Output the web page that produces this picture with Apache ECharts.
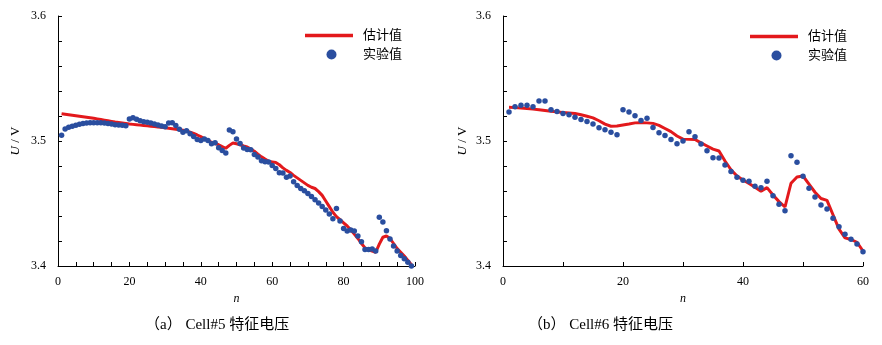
<!DOCTYPE html>
<html><head><meta charset="utf-8">
<script src="https://cdn.jsdelivr.net/npm/echarts@6/dist/echarts.min.js"></script>
<style>html,body{margin:0;padding:0;background:#fff}#c{width:882px;height:345px}</style>
</head><body><div id="c"></div>
<script>
// Cell#5 (left)
const expL = [3.5046,3.5096,3.511,3.5118,3.5126,3.5134,3.514,3.5144,3.5146,3.5146,
3.5146,3.5146,3.5144,3.514,3.5136,3.513,3.5128,3.5126,3.5122,3.5176,
3.5187,3.5174,3.5163,3.5155,3.515,3.5144,3.5136,3.5128,3.512,3.5114,
3.5144,3.5146,3.5124,3.5094,3.507,3.5083,3.5059,3.5037,3.5013,3.5005,
3.5016,3.5005,3.4979,3.4987,3.4947,3.4925,3.4904,3.5088,3.5075,3.5016,
3.4981,3.4944,3.4933,3.493,3.4893,3.4872,3.4843,3.4835,3.4832,3.4805,
3.4781,3.4747,3.4744,3.471,3.472,3.4675,3.4645,3.4621,3.4603,3.4581,
3.4557,3.453,3.4504,3.4477,3.4448,3.4416,3.4378,3.4461,3.436,3.4301,
3.428,3.4288,3.428,3.424,3.4194,3.4133,3.4133,3.4136,3.412,3.439,
3.4352,3.4282,3.4216,3.416,3.412,3.4085,3.4058,3.403,3.4];
const estL = [3.5218,3.5214,3.521,3.5206,3.5202,3.5198,3.5194,3.519,3.5186,3.5182,
3.5177,3.5172,3.5167,3.5162,3.5157,3.5152,3.5148,3.5144,3.514,3.5136,
3.5133,3.513,3.5127,3.5124,3.5121,3.5118,3.5115,3.5112,3.5109,3.5106,
3.5102,3.5098,3.5094,3.509,3.5086,3.508,3.507,3.506,3.5048,3.5035,
3.502,3.5005,3.499,3.498,3.497,3.4955,3.4942,3.4965,3.4984,3.4978,
3.497,3.496,3.4952,3.4935,3.4918,3.4895,3.4873,3.4855,3.4838,3.4833,
3.4828,3.481,3.4785,3.4765,3.4748,3.4725,3.4705,3.4685,3.4665,3.4645,
3.463,3.462,3.4595,3.4565,3.452,3.4475,3.443,3.4395,3.437,3.4345,
3.432,3.429,3.4255,3.422,3.418,3.4145,3.413,3.412,3.411,3.4175,
3.423,3.424,3.422,3.418,3.414,3.411,3.408,3.4045,3.401];
// Cell#6 (right)
const expR = [3.5232,3.5275,3.5286,3.5286,3.5275,3.532,3.532,3.525,3.5237,3.5221,
3.521,3.519,3.5173,3.5157,3.5136,3.5107,3.509,3.507,3.505,3.525,
3.5232,3.5202,3.5165,3.5182,3.5108,3.5067,3.5045,3.5012,3.4978,3.5,
3.5075,3.5035,3.4976,3.4923,3.4867,3.4864,3.4808,3.4757,3.471,3.4686,
3.4678,3.4638,3.4627,3.4678,3.4563,3.4494,3.4442,3.4883,3.483,3.4718,
3.4622,3.4552,3.4488,3.4456,3.4382,3.4314,3.4254,3.4214,3.4176,3.4115];
const estR = [3.527,3.5267,3.5264,3.526,3.5255,3.525,3.5244,3.5238,3.5233,3.5228,
3.5224,3.522,3.521,3.5198,3.5185,3.5162,3.5135,3.5118,3.512,3.5128,
3.5136,3.5145,3.5147,3.5145,3.5141,3.5125,3.51,3.5075,3.504,3.5015,
3.5013,3.5012,3.4985,3.496,3.4935,3.492,3.484,3.477,3.472,3.4688,
3.466,3.463,3.4598,3.4627,3.4568,3.4515,3.4472,3.4662,3.4712,3.472,
3.4655,3.459,3.454,3.4525,3.441,3.4295,3.4225,3.4212,3.419,3.412];
const yTicks = [3.4, 3.5, 3.6];
const xTicksL = [0, 20, 40, 60, 80, 100];
const xTicksR = [0, 20, 40, 60];
const names = ['估计值', '实验值'];
const captions = ['（a） Cell#5 特征电压', '（b） Cell#6 特征电压'];

const pair = (arr) => arr.map((v, i) => [i + 1, v]);
const SERIF = '"Liberation Serif","Times New Roman",serif';
const CJK = '"Liberation Serif","Noto Sans CJK SC",serif';
const RED = '#e3191c', BLUE = '#2a4e9f';
const LINE_ICON = 'path://M0,0 M53,10 M0,3.2 L48,3.2 L48,6.8 L0,6.8 Z';

function xAxis(idx, ticks, minorSplit) {
  return {
    gridIndex: idx, type: 'value', min: ticks[0], max: ticks[ticks.length - 1],
    interval: ticks[1] - ticks[0],
    name: 'n', nameLocation: 'middle', nameGap: 27,
    nameTextStyle: { fontFamily: SERIF, fontStyle: 'italic', fontSize: 12, color: '#000' },
    axisLine: { lineStyle: { color: '#000', width: 1 } },
    axisTick: { inside: true, length: 4, lineStyle: { color: '#000' } },
    minorTick: { show: true, splitNumber: minorSplit, length: 4, lineStyle: { color: '#000' } },
    axisLabel: { fontFamily: SERIF, fontSize: 12, color: '#000', margin: 10 },
    splitLine: { show: false }
  };
}
function yAxis(idx, gap) {
  return {
    gridIndex: idx, type: 'value', min: yTicks[0], max: yTicks[yTicks.length - 1], interval: 0.1,
    name: '{i|U} / V', nameLocation: 'middle', nameGap: gap, nameRotate: 90,
    nameTextStyle: { fontFamily: SERIF, fontSize: 13, color: '#000',
      rich: { i: { fontFamily: SERIF, fontStyle: 'italic', fontSize: 13, color: '#000' } } },
    axisLine: { show: true, lineStyle: { color: '#000', width: 1 } },
    axisTick: { show: true, inside: true, length: 4, lineStyle: { color: '#000' } },
    minorTick: { show: true, splitNumber: 5, length: 4, lineStyle: { color: '#000' } },
    axisLabel: { fontFamily: SERIF, fontSize: 12, color: '#000', margin: 12,
      formatter: (v) => v.toFixed(1) },
    splitLine: { show: false }
  };
}
function legend(left, top, gi) {
  return {
    orient: 'vertical', left: left, top: top, padding: 0, itemWidth: 53, itemHeight: 10, itemGap: 6,
    textStyle: { fontFamily: CJK, fontSize: 13, color: '#000' },
    data: [
      { name: names[0] + (gi ? ' ' : ''), icon: LINE_ICON, itemStyle: { color: RED } },
      { name: names[1] + (gi ? ' ' : ''), icon: 'circle', itemStyle: { color: BLUE } }
    ]
  };
}

const chart = echarts.init(document.getElementById('c'), null, { renderer: 'canvas' });
chart.setOption({
  animation: false,
  backgroundColor: '#fff',
  grid: [
    { left: 58, top: 16, width: 357, height: 250 },
    { left: 503, top: 16, width: 360, height: 250 }
  ],
  xAxis: [xAxis(0, xTicksL, 4), xAxis(1, xTicksR, 2)],
  yAxis: [yAxis(0, 36), yAxis(1, 34)],
  legend: [legend(305, 29, 0), legend(750, 30, 1)],
  series: [
    { name: names[0], type: 'line', xAxisIndex: 0, yAxisIndex: 0, data: pair(estL), symbol: 'none',
      lineStyle: { color: RED, width: 3 }, itemStyle: { color: RED }, z: 3 },
    { name: names[1], type: 'scatter', xAxisIndex: 0, yAxisIndex: 0, data: pair(expL), symbolSize: 5.5,
      itemStyle: { color: BLUE, opacity: 1 }, z: 4 },
    { name: names[0] + ' ', type: 'line', xAxisIndex: 1, yAxisIndex: 1, data: pair(estR), symbol: 'none',
      lineStyle: { color: RED, width: 3 }, itemStyle: { color: RED }, z: 3 },
    { name: names[1] + ' ', type: 'scatter', xAxisIndex: 1, yAxisIndex: 1, data: pair(expR), symbolSize: 5.5,
      itemStyle: { color: BLUE, opacity: 1 }, z: 4 }
  ],
  graphic: [
    { type: 'text', left: 145, top: 318, style: { text: captions[0], font: '15px ' + CJK, fill: '#000' } },
    { type: 'text', left: 528, top: 318, style: { text: captions[1], font: '15px ' + CJK, fill: '#000' } }
  ]
});
</script></body></html>
